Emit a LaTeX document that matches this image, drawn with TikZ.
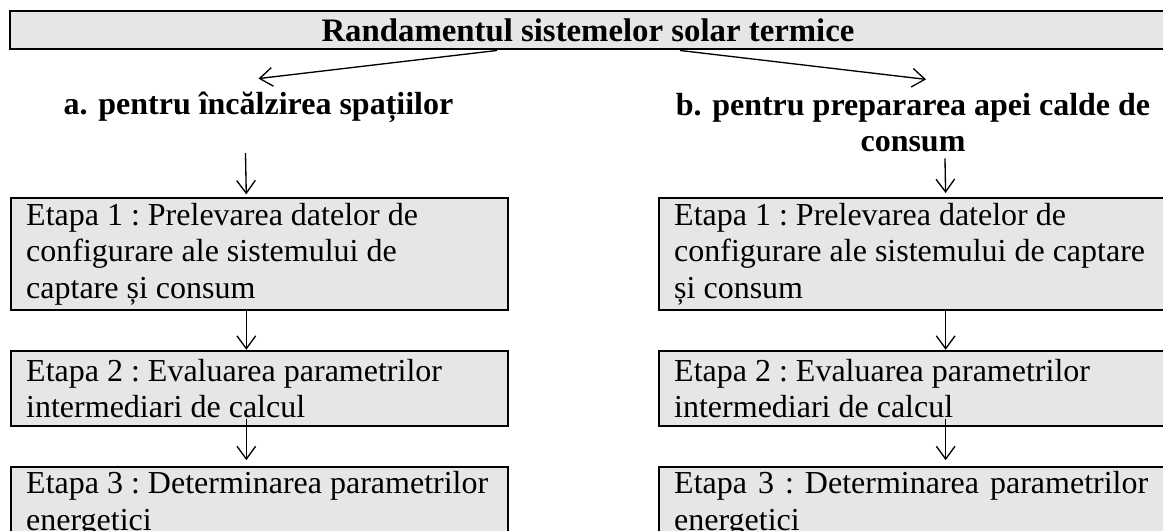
\documentclass[tikz,border=0pt]{standalone}
\usepackage{fontspec}
\setmainfont{Liberation Serif}
\usetikzlibrary{arrows.meta,positioning}
\definecolor{EtapaGray}{HTML}{E6E6E6}

\begin{document}
\begin{tikzpicture}[x=0.375pt, y=-0.375pt, font=\fontsize{12}{13.7}\selectfont\frenchspacing, node distance=14.4pt,
    etapa/.style={draw, line width=0.9pt, fill=EtapaGray, align=left, inner xsep=5.625pt, inner ysep=0pt,
      execute at begin node={\spaceskip=0pt\xspaceskip=0pt}},
    titlu/.style={font=\fontsize{12}{13.7}\selectfont\bfseries, inner xsep=2pt, inner ysep=5pt},
    sag/.style={-{Straight Barb[length=4.8pt,width=7pt]}, line width=0.5pt}]
  \useasboundingbox (0,0) rectangle (1163,531);
  \node[titlu, draw, line width=1.1pt, fill=EtapaGray, minimum width=433.5pt, minimum height=14.25pt, inner sep=0pt, font=\fontsize{12.3}{13.7}\selectfont\bfseries] (rand) at (588,30) {Randamentul sistemelor solar termice};
  \node[titlu, anchor=base] (ha) at (258.5,115) {a. pentru încălzirea spațiilor};
  \node[titlu, anchor=base, align=center] (hb) at (913,152) {b. pentru prepararea apei calde de\\consum};

  \node[etapa, text width=175.1pt, minimum height=42pt, anchor=north west] (a1) at (10,197) {Etapa 1 : Prelevarea datelor de\\configurare ale sistemului de\\captare și consum};
  \node[etapa, text width=175.1pt, minimum height=28.1pt, below=of a1] (a2) {Etapa 2 : Evaluarea parametrilor\\intermediari de calcul};
  \node[etapa, text width=175.1pt, minimum height=28.1pt, below=of a2] (a3) {Etapa 3 : Determinarea parametrilor\\energetici};

  \node[etapa, text width=179.6pt, minimum height=42pt, anchor=north west] (b1) at (658,197) {Etapa 1 : Prelevarea datelor de\\configurare ale sistemului de captare\\și consum};
  \node[etapa, text width=179.6pt, minimum height=28.1pt, below=of b1] (b2) {Etapa 2 : Evaluarea parametrilor\\intermediari de calcul};
  \node[etapa, text width=179.6pt, minimum height=28.1pt, below=of b2] (b3) {\makebox[177.75pt][s]{Etapa 3 : Determinarea parametrilor}\\energetici};

  \draw[sag] ([xshift=-34.1pt]rand.south) -- (ha.north);
  \draw[sag] ([xshift=34.5pt]rand.south) -- ([xshift=4.9pt]hb.north);
  \draw[sag, shorten <=6pt, shorten >=1pt] ([xshift=-5pt]ha.south) -- ([xshift=-5pt]a1.north);
  \draw[sag] ([xshift=-5pt]a1.south) -- ([xshift=-5pt]a2.north);
  \draw[sag, shorten >=2pt] ([xshift=-5pt,yshift=3pt]a2.south) -- ([xshift=-5pt]a3.north);
  \draw[sag, shorten >=1.5pt] ([xshift=12pt,yshift=3pt]hb.south) -- ([xshift=12pt]b1.north);
  \draw[sag] ([xshift=12pt]b1.south) -- ([xshift=12pt]b2.north);
  \draw[sag, shorten >=2pt] ([xshift=12pt,yshift=3pt]b2.south) -- ([xshift=12pt]b3.north);
\end{tikzpicture}
\end{document}
